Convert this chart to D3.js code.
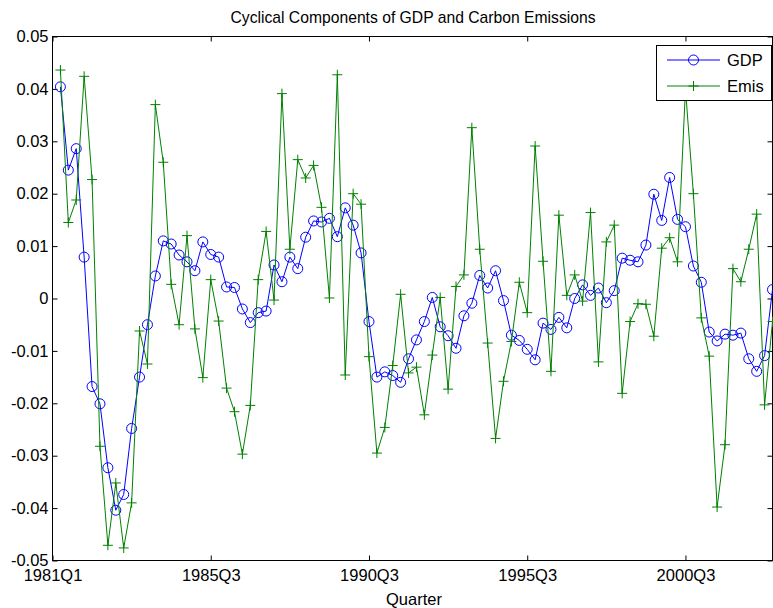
<!DOCTYPE html>
<html>
<head>
<meta charset="utf-8">
<script src="https://cdn.jsdelivr.net/npm/d3@7/dist/d3.min.js"></script>
<style>
  html, body { margin: 0; padding: 0; background: #fff; }
  svg { display: block; }
  text { font-family: "Liberation Sans", Arial, Helvetica, sans-serif; fill: #000; }
</style>
</head>
<body>
<script>
// ---- data ----
const quarterIndex = d3.range(1, 92); // 1981Q1 .. 2003Q3
const gdp = [
  0.0404, 0.0245, 0.0286, 0.0079, -0.0168, -0.0201, -0.0323, -0.0404, -0.0374, -0.0248,
  -0.0150, -0.0050, 0.0043, 0.0110, 0.0104, 0.0083, 0.0070, 0.0053, 0.0108, 0.0084,
  0.0079, 0.0022, 0.0021, -0.0020, -0.0046, -0.0027, -0.0024, 0.0064, 0.0032, 0.0079,
  0.0057, 0.0117, 0.0148, 0.0146, 0.0153, 0.0118, 0.0173, 0.0140, 0.0087, -0.0044,
  -0.0150, -0.0140, -0.0147, -0.0160, -0.0115, -0.0079, -0.0044, 0.0002, -0.0054, -0.0071,
  -0.0095, -0.0033, -0.0009, 0.0044, 0.0020, 0.0053, -0.0004, -0.0070, -0.0080, -0.0097,
  -0.0117, -0.0047, -0.0059, -0.0036, -0.0056, 0.0000, 0.0026, 0.0006, 0.0020, -0.0008,
  0.0015, 0.0077, 0.0073, 0.0070, 0.0102, 0.0199, 0.0149, 0.0231, 0.0151, 0.0137,
  0.0062, 0.0031, -0.0064, -0.0081, -0.0068, -0.0070, -0.0066, -0.0115, -0.0139, -0.0109,
  0.0017
];
const emis = [
  0.0436, 0.0145, 0.0188, 0.0424, 0.0227, -0.0282, -0.0471, -0.0352, -0.0476, -0.0390,
  -0.0062, -0.0125, 0.0370, 0.0260, 0.0027, -0.0050, 0.0120, -0.0058, -0.0151, 0.0036,
  -0.0043, -0.0171, -0.0216, -0.0297, -0.0204, 0.0036, 0.0128, -0.0003, 0.0391, 0.0094,
  0.0265, 0.0230, 0.0254, 0.0174, 0.0001, 0.0427, -0.0146, 0.0200, 0.0180, -0.0111,
  -0.0295, -0.0246, -0.0128, 0.0008, -0.0142, -0.0131, -0.0222, -0.0108, 0.0002, -0.0173,
  0.0023, 0.0045, 0.0326, 0.0094, -0.0085, -0.0267, -0.0158, -0.0082, 0.0031, -0.0027,
  0.0291, 0.0071, -0.0139, 0.0159, 0.0006, 0.0045, -0.0005, 0.0164, -0.0121, 0.0108,
  0.0140, -0.0181, -0.0044, -0.0010, -0.0011, -0.0072, 0.0096, 0.0116, 0.0070, 0.0400,
  0.0200, -0.0037, -0.0110, -0.0398, -0.0279, 0.0057, 0.0032, 0.0094, 0.0161, -0.0203,
  -0.0044
];
const xTickValues = [0, 20, 40, 60, 80];
const xTickLabels = ["1981Q1", "1985Q3", "1990Q3", "1995Q3", "2000Q3"];
const yTickValues = [-0.05, -0.04, -0.03, -0.02, -0.01, 0, 0.01, 0.02, 0.03, 0.04, 0.05];
const yTickLabels = ["-0.05", "-0.04", "-0.03", "-0.02", "-0.01", "0", "0.01", "0.02", "0.03", "0.04", "0.05"];
const seriesNames = ["GDP", "Emis"];
const seriesColors = ["#0000ff", "#008000"];

// ---- layout ----
const W = 773, H = 608;
const pLeft = 52.5, pRight = 772.5, pTop = 36.5, pBottom = 560.5;
const fontSize = 16.5;

const svg = d3.select("body").append("svg").attr("width", W).attr("height", H);

const x = d3.scaleLinear().domain([0, 91]).range([pLeft, pRight]);
const y = d3.scaleLinear().domain([-0.05, 0.05]).range([pBottom, pTop]);

// clip
svg.append("clipPath").attr("id", "clip")
  .append("rect").attr("x", pLeft).attr("y", pTop - 6).attr("width", pRight - pLeft + 6).attr("height", pBottom - pTop + 12);

// axes (ticks inward, MATLAB style)
const tick = 5;
const gx = svg.append("g").attr("transform", `translate(0,${pBottom})`)
  .call(d3.axisBottom(x).tickValues(xTickValues).tickFormat((d, i) => xTickLabels[i]).tickSizeInner(-tick).tickSizeOuter(0).tickPadding(9));
const gxTop = svg.append("g").attr("transform", `translate(0,${pTop})`)
  .call(d3.axisTop(x).tickValues(xTickValues).tickFormat("").tickSizeInner(-tick).tickSizeOuter(0));
const gy = svg.append("g").attr("transform", `translate(${pLeft},0)`)
  .call(d3.axisLeft(y).tickValues(yTickValues).tickFormat((d, i) => yTickLabels[i]).tickSizeInner(-tick).tickSizeOuter(0).tickPadding(4));
const gyR = svg.append("g").attr("transform", `translate(${pRight},0)`)
  .call(d3.axisRight(y).tickValues(yTickValues).tickFormat("").tickSizeInner(-tick).tickSizeOuter(0));
[gx, gxTop, gy, gyR].forEach(g => {
  g.select(".domain").remove();
  g.selectAll(".tick line").attr("stroke", "#000").attr("stroke-width", 1);
  g.selectAll(".tick text").style("font-size", fontSize + "px").attr("fill", "#000");
});
gx.selectAll(".tick text").attr("dy", "0.71em");

// frame
svg.append("rect").attr("x", pLeft).attr("y", pTop).attr("width", pRight - pLeft).attr("height", pBottom - pTop)
  .attr("fill", "none").attr("stroke", "#000").attr("stroke-width", 1);

const plot = svg.append("g").attr("clip-path", "url(#clip)");

const line = d3.line().x((d, i) => x(quarterIndex[i])).y(d => y(d));

// GDP
plot.append("path").datum(gdp).attr("d", line).attr("fill", "none")
  .attr("stroke", seriesColors[0]).attr("stroke-width", 1);
plot.append("g").selectAll("circle").data(gdp).join("circle")
  .attr("cx", (d, i) => x(quarterIndex[i])).attr("cy", d => y(d)).attr("r", 5)
  .attr("fill", "none").attr("stroke", seriesColors[0]).attr("stroke-width", 1);

// Emis
plot.append("path").datum(emis).attr("d", line).attr("fill", "none")
  .attr("stroke", seriesColors[1]).attr("stroke-width", 1);
const plusPath = (cx, cy, s) => `M${cx - s},${cy}H${cx + s}M${cx},${cy - s}V${cy + s}`;
plot.append("g").selectAll("path").data(emis).join("path")
  .attr("d", (d, i) => plusPath(x(quarterIndex[i]), y(d), 5))
  .attr("fill", "none").attr("stroke", seriesColors[1]).attr("stroke-width", 1);

// title and axis label
svg.append("text").attr("x", 413).attr("y", 23).attr("text-anchor", "middle")
  .style("font-size", "15.7px").text("Cyclical Components of GDP and Carbon Emissions");
svg.append("text").attr("x", 414).attr("y", 605).attr("text-anchor", "middle")
  .style("font-size", fontSize + "px").text("Quarter");

// legend
const lg = svg.append("g");
lg.append("rect").attr("x", 656.5).attr("y", 45.5).attr("width", 115).attr("height", 55)
  .attr("fill", "#fff").attr("stroke", "#000").attr("stroke-width", 1);
const ly = [60, 86];
seriesNames.forEach((name, k) => {
  lg.append("line").attr("x1", 667).attr("x2", 720).attr("y1", ly[k]).attr("y2", ly[k])
    .attr("stroke", seriesColors[k]).attr("stroke-width", 1);
  if (k === 0) {
    lg.append("circle").attr("cx", 693.5).attr("cy", ly[k]).attr("r", 5)
      .attr("fill", "none").attr("stroke", seriesColors[k]);
  } else {
    lg.append("path").attr("d", plusPath(693.5, ly[k], 5)).attr("fill", "none").attr("stroke", seriesColors[k]);
  }
  lg.append("text").attr("x", 727).attr("y", ly[k]).attr("dy", "0.36em")
    .style("font-size", fontSize + "px").text(name);
});
</script>
</body>
</html>
